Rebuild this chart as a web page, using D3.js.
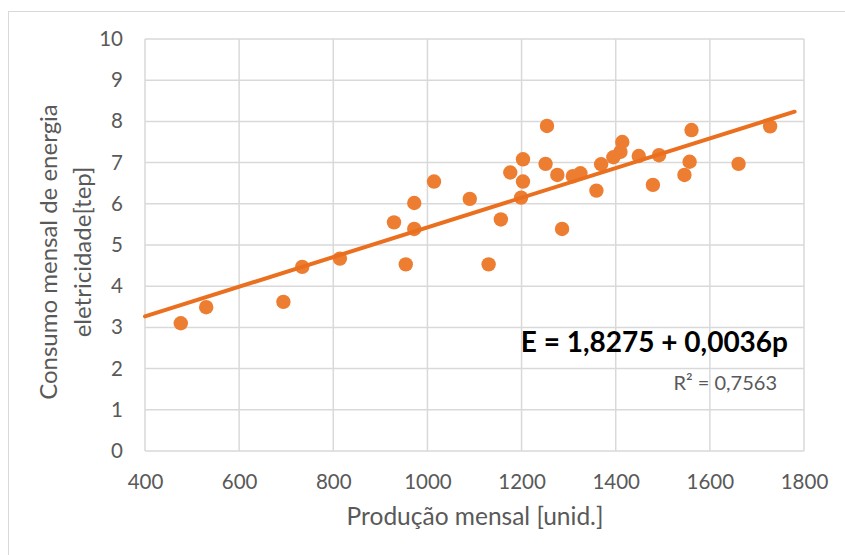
<!DOCTYPE html>
<html>
<head>
<meta charset="utf-8">
<script src="https://cdn.jsdelivr.net/npm/d3@7"></script>
<style>
  html, body { margin: 0; padding: 0; background: #fff; }
  svg { display: block; font-family: Lato, "Open Sans", sans-serif; }
</style>
</head>
<body>
<svg id="chart" width="845" height="555"></svg>
<script>
// Monthly production (units) and electricity consumption (tep)
const producao = [476, 530, 694, 734, 814, 929, 954, 972, 972, 1014, 1090, 1130,
  1156, 1176, 1199, 1203, 1203, 1254, 1251, 1276, 1286, 1309, 1325, 1359,
  1369, 1395, 1410, 1414, 1449, 1479, 1492, 1546, 1557, 1561, 1661, 1728];
const consumo = [3.10, 3.49, 3.62, 4.47, 4.67, 5.55, 4.53, 5.39, 6.02, 6.54, 6.12, 4.53,
  5.62, 6.76, 6.15, 7.08, 6.54, 7.89, 6.97, 6.70, 5.39, 6.67, 6.74, 6.32,
  6.96, 7.13, 7.26, 7.50, 7.16, 6.46, 7.18, 6.70, 7.02, 7.79, 6.97, 7.88];

// Linear trend E = a + b·p
const trendIntercept = 1.8275;
const trendSlope = 0.0036;
const trendRange = [400, 1780];
const rSquared = "0,7563";

const xTicks = [400, 600, 800, 1000, 1200, 1400, 1600, 1800];
const yTicks = [0, 1, 2, 3, 4, 5, 6, 7, 8, 9, 10];

const xTitle = "Produção mensal [unid.]";
const yTitleLines = ["Consumo mensal de energia", "eletricidade[tep]"];
const equationText = "E = 1,8275 + 0,0036p";

const svg = d3.select("#chart");
const plot = { left: 145, right: 804, top: 39, bottom: 451 };

const x = d3.scaleLinear().domain([400, 1800]).range([plot.left, plot.right]);
const y = d3.scaleLinear().domain([0, 10]).range([plot.bottom, plot.top]);

const orange = "#ED7D31";
const gridColor = "#d9d9d9";
const textColor = "#595959";

// chart frame
svg.append("rect")
  .attr("x", 8.5).attr("y", 11.5)
  .attr("width", 845).attr("height", 560)
  .attr("fill", "none").attr("stroke", gridColor).attr("stroke-width", 1);

// gridlines
svg.append("g").selectAll("line").data(yTicks).join("line")
  .attr("x1", plot.left).attr("x2", plot.right)
  .attr("y1", d => y(d)).attr("y2", d => y(d))
  .attr("stroke", gridColor).attr("stroke-width", 1.5);
svg.append("g").selectAll("line").data(xTicks).join("line")
  .attr("y1", plot.top).attr("y2", plot.bottom)
  .attr("x1", d => x(d)).attr("x2", d => x(d))
  .attr("stroke", gridColor).attr("stroke-width", 1.5);

// axes (labels only)
const xAxis = svg.append("g")
  .attr("transform", `translate(0,${plot.bottom})`)
  .call(d3.axisBottom(x).tickValues(xTicks).tickSize(0).tickPadding(23).tickFormat(d3.format("d")));
const yAxis = svg.append("g")
  .attr("transform", `translate(${plot.left},0)`)
  .call(d3.axisLeft(y).tickValues(yTicks).tickSize(0).tickPadding(22).tickFormat(d3.format("d")));
[xAxis, yAxis].forEach(g => {
  g.select(".domain").remove();
  g.selectAll("text")
    .attr("fill", textColor)
    .style("font-family", "Lato, sans-serif")
    .style("font-size", "20.5px");
});

// scatter points
svg.append("g").selectAll("circle").data(producao).join("circle")
  .attr("cx", d => x(d))
  .attr("cy", (d, i) => y(consumo[i]))
  .attr("r", 7.2)
  .attr("fill", orange);

// trend line
svg.append("line")
  .attr("x1", x(trendRange[0])).attr("y1", y(trendIntercept + trendSlope * trendRange[0]))
  .attr("x2", x(trendRange[1])).attr("y2", y(trendIntercept + trendSlope * trendRange[1]))
  .attr("stroke", "#EA7020").attr("stroke-width", 4).attr("stroke-linecap", "round");

// equation and R²
svg.append("text")
  .attr("x", 788).attr("y", 352)
  .attr("text-anchor", "end")
  .attr("fill", "#000")
  .style("font-weight", "bold")
  .style("font-size", "28px")
  .text(equationText);
svg.append("text")
  .attr("x", 777).attr("y", 390)
  .attr("text-anchor", "end")
  .attr("fill", textColor)
  .style("font-size", "20px")
  .text("R² = " + rSquared);

// axis titles
svg.append("text")
  .attr("x", (plot.left + plot.right) / 2 + 0.5).attr("y", 525)
  .attr("text-anchor", "middle")
  .attr("fill", textColor)
  .style("font-size", "24.5px")
  .text(xTitle);

const yTitle = svg.append("text")
  .attr("transform", "translate(57,252) rotate(-90)")
  .attr("text-anchor", "middle")
  .attr("fill", textColor)
  .style("font-size", "24px");
yTitle.selectAll("tspan").data(yTitleLines).join("tspan")
  .attr("x", 0)
  .attr("y", (d, i) => i * 34)
  .text(d => d);
</script>
</body>
</html>
